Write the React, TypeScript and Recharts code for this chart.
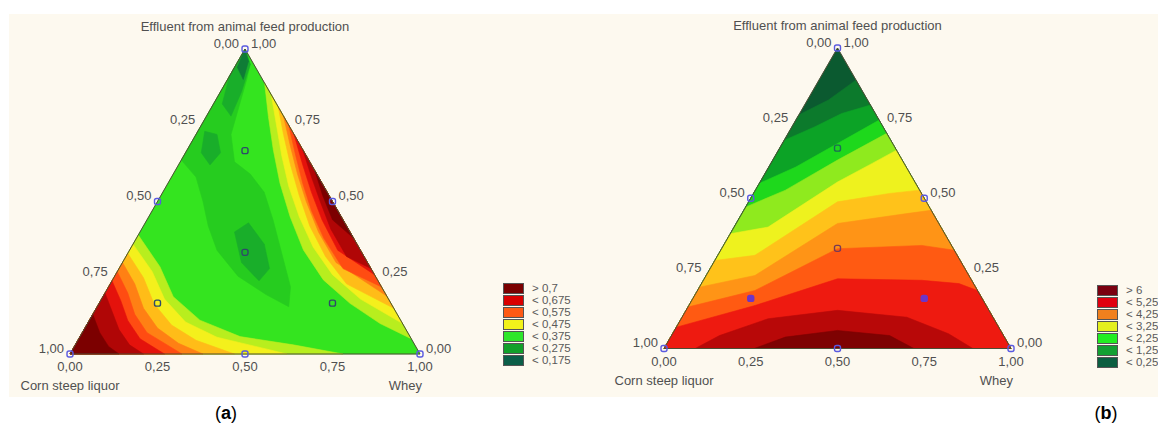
import React from "react";
import { ScatterChart, Scatter, XAxis, YAxis } from "recharts";

type Pt = [number, number];

// Points are in triangle space: x runs along the base (0 = corn steep liquor, 1 = whey),
// y is the effluent fraction (1 = top vertex).
const triangle: Pt[] = [[0, 0], [1, 0], [0.5, 1], [0, 0]];

const tickValues = [0, 0.25, 0.5, 0.75, 1];

const axisNames = {
  top: "Effluent from animal feed production",
  left: "Corn steep liquor",
  right: "Whey",
};

// design points as mixtures [corn, whey, effluent]
const designVertices = [[1, 0, 0], [0, 1, 0], [0, 0, 1]];
const designEdges = [[0.5, 0.5, 0], [0.5, 0, 0.5], [0, 0.5, 0.5]];
const designAxial = [[2 / 3, 1 / 6, 1 / 6], [1 / 6, 2 / 3, 1 / 6], [1 / 6, 1 / 6, 2 / 3]];
const designCentre = [[1 / 3, 1 / 3, 1 / 3]];

// ---- (a) contour regions ----
// low side (darker greens), painted over the base
const aLow: Pt[][][] = [
  [
    [[0.5, 1], [0.318, 0.636], [0.36, 0.58], [0.38, 0.5], [0.395, 0.42], [0.42, 0.34], [0.48, 0.255], [0.56, 0.195], [0.625, 0.155], [0.63, 0.22], [0.605, 0.33], [0.58, 0.44], [0.555, 0.53], [0.515, 0.59], [0.47, 0.63], [0.46, 0.72], [0.48, 0.8], [0.505, 0.9], [0.515, 0.95]],
  ],
  [
    [[0.5, 1], [0.455, 0.91], [0.435, 0.82], [0.46, 0.78], [0.49, 0.86], [0.515, 0.95]],
    [[0.385, 0.73], [0.375, 0.66], [0.4, 0.62], [0.43, 0.66], [0.42, 0.72]],
    [[0.47, 0.4], [0.49, 0.3], [0.54, 0.24], [0.57, 0.28], [0.555, 0.36], [0.51, 0.43]],
  ],
  [
    [[0.5, 1], [0.478, 0.94], [0.495, 0.9], [0.51, 0.96]],
  ],
];

// high side, nested from the yellow-green contour to the darkest red
const aHigh: Pt[][][] = [
  [
    [[0.195, 0.39], [0.257, 0.286], [0.295, 0.188], [0.371, 0.111], [0.486, 0.057], [0.638, 0.03], [0.78, 0], [0, 0]],
    [[0.556, 0.889], [0.567, 0.778], [0.581, 0.669], [0.6, 0.56], [0.629, 0.45], [0.667, 0.341], [0.724, 0.243], [0.8, 0.166], [0.886, 0.1], [0.975, 0.05]],
  ],
  [
    [[0.18, 0.36], [0.235, 0.27], [0.27, 0.18], [0.33, 0.105], [0.42, 0.055], [0.53, 0.025], [0.62, 0], [0, 0]],
    [[0.575, 0.85], [0.59, 0.75], [0.605, 0.65], [0.625, 0.55], [0.655, 0.45], [0.695, 0.35], [0.75, 0.26], [0.83, 0.18], [0.95, 0.1]],
  ],
  [
    [[0.165, 0.33], [0.21, 0.25], [0.24, 0.165], [0.29, 0.095], [0.36, 0.045], [0.47, 0], [0, 0]],
    [[0.595, 0.81], [0.61, 0.72], [0.63, 0.62], [0.655, 0.52], [0.685, 0.42], [0.73, 0.32], [0.79, 0.23], [0.925, 0.15]],
  ],
  [
    [[0.15, 0.3], [0.185, 0.23], [0.21, 0.15], [0.25, 0.085], [0.31, 0.035], [0.38, 0], [0, 0]],
    [[0.61, 0.78], [0.63, 0.68], [0.65, 0.59], [0.675, 0.5], [0.71, 0.4], [0.76, 0.3], [0.905, 0.19]],
  ],
  [
    [[0.135, 0.27], [0.165, 0.2], [0.185, 0.13], [0.22, 0.07], [0.32, 0], [0, 0]],
    [[0.625, 0.75], [0.645, 0.65], [0.665, 0.56], [0.69, 0.47], [0.725, 0.38], [0.78, 0.28], [0.89, 0.22]],
  ],
  [
    [[0.12, 0.24], [0.145, 0.175], [0.165, 0.11], [0.2, 0.05], [0.27, 0], [0, 0]],
    [[0.64, 0.72], [0.665, 0.62], [0.69, 0.53], [0.72, 0.44], [0.765, 0.34], [0.87, 0.26]],
  ],
  [
    [[0.1, 0.2], [0.12, 0.14], [0.14, 0.08], [0.17, 0.03], [0.21, 0], [0, 0]],
    [[0.665, 0.67], [0.69, 0.58], [0.715, 0.5], [0.745, 0.41], [0.79, 0.32], [0.86, 0.28]],
  ],
  [
    [[0.065, 0.13], [0.085, 0.07], [0.11, 0.025], [0.14, 0], [0, 0]],
    [[0.7, 0.6], [0.722, 0.52], [0.75, 0.44], [0.81, 0.38]],
  ],
];

// ---- (b) contour regions: each runs from the left edge to the right edge, area below is higher ----
const bBands: Pt[][][] = [
  [[[0.388, 0.777], [0.474, 0.827], [0.553, 0.893], [1, 0], [0, 0]]],
  [[[0.347, 0.693], [0.435, 0.738], [0.512, 0.782], [0.595, 0.81], [1, 0], [0, 0]]],
  [[[0.274, 0.549], [0.38, 0.604], [0.5, 0.682], [0.62, 0.76], [1, 0], [0, 0]]],
  [[[0.236, 0.471], [0.35, 0.527], [0.5, 0.627], [0.642, 0.716], [1, 0], [0, 0]]],
  [[[0.191, 0.382], [0.3, 0.404], [0.5, 0.554], [0.6, 0.616], [0.67, 0.66], [1, 0], [0, 0]]],
  [[[0.147, 0.293], [0.262, 0.31], [0.5, 0.488], [0.65, 0.516], [0.737, 0.527], [1, 0], [0, 0]]],
  [[[0.102, 0.204], [0.262, 0.243], [0.5, 0.416], [0.7, 0.449], [0.77, 0.46], [1, 0], [0, 0]]],
  [[[0.069, 0.138], [0.262, 0.193], [0.5, 0.332], [0.743, 0.343], [0.837, 0.327], [1, 0], [0, 0]]],
  [[[0.036, 0.071], [0.262, 0.143], [0.5, 0.232], [0.743, 0.227], [0.85, 0.216], [0.903, 0.193], [1, 0], [0, 0]]],
  [[[0.09, 0], [0.16, 0.043], [0.3, 0.099], [0.5, 0.127], [0.7, 0.104], [0.82, 0.049], [0.89, 0]]],
  [[[0.26, 0], [0.35, 0.038], [0.5, 0.06], [0.65, 0.043], [0.72, 0]]],
];

const legendA = ["> 0,7", "< 0,675", "< 0,575", "< 0,475", "< 0,375", "< 0,275", "< 0,175"];
const legendB = ["> 6", "< 5,25", "< 4,25", "< 3,25", "< 2,25", "< 1,25", "< 0,25"];

// styles
const aBase = "#34e41f";
const aLowColors = ["#26cc1f", "#19ae2a", "#0f7c36"];
const aHighColors = ["#b8ee1e", "#f4f01c", "#ffbc18", "#ff8014", "#ff4c12", "#e4120c", "#b00606", "#7c0000"];
const bBase = "#0b5a30";
const bColors = ["#0c7a2c", "#0ca326", "#1ed81c", "#8fea1e", "#eef21e", "#ffc21a", "#ff9416", "#ff5a12", "#ee1a10", "#b80808", "#7e0202"];
const legendColorsA = ["#7a0000", "#d90000", "#ff5a14", "#f2f21a", "#2ee62a", "#12a02a", "#0b5e48"];
const legendColorsB = ["#7a0010", "#e00010", "#f0801e", "#e4f01e", "#22ee22", "#12a032", "#0b5e40"];

const FONT = "'Liberation Sans', Arial, sans-serif";
const TEXT = "#505050";
const PAD_X = 60;
const PAD_Y = 45;

const fmt = (v: number) => v.toFixed(2).replace(".", ",");
const toXY = (pts: Pt[]) => pts.map(([x, y]) => ({ x, y }));
const closed = (pts: Pt[]) => [...pts, pts[0]];
const mixXY = (m: number[]) => ({ x: m[1] + m[2] / 2, y: m[2] });

const leftTicks = tickValues.map((c) => ({ x: (1 - c) / 2, y: 1 - c, text: fmt(c) }));
const rightTicks = tickValues.map((e) => ({ x: 1 - e / 2, y: e, text: fmt(e) }));
const bottomTicks = tickValues.map((w) => ({ x: w, y: 0, text: fmt(w) }));

const NoDot = () => <g />;

const textShape = (dx: number, dy: number, anchor: "start" | "middle" | "end") => (p: any) => (
  <text x={p.cx + dx} y={p.cy + dy} textAnchor={anchor} fontSize={13} fontFamily={FONT} fill={TEXT}>
    {p.payload.text}
  </text>
);

const marker = (stroke: string, fill = "none") => (p: any) => (
  <rect x={p.cx - 3} y={p.cy - 3} width={6} height={6} rx={2} fill={fill} stroke={stroke} strokeWidth={1.4} />
);

type Box = { left: number; top: number; width: number; height: number };

function Ternary({ box, base, layers, interior }: { box: Box; base: string; layers: { polys: Pt[][]; color: string }[]; interior: React.ReactNode }) {
  return (
    <div style={{ position: "absolute", left: box.left - PAD_X, top: box.top - PAD_Y }}>
      <ScatterChart
        width={box.width + 2 * PAD_X}
        height={box.height + 2 * PAD_Y}
        margin={{ top: PAD_Y, right: PAD_X, bottom: PAD_Y, left: PAD_X }}
      >
        <XAxis type="number" dataKey="x" domain={[0, 1]} hide />
        <YAxis type="number" dataKey="y" domain={[0, 1]} hide />
        <Scatter data={toXY(triangle)} line={{ fill: base, stroke: base, strokeWidth: 0.5 }} shape={NoDot} isAnimationActive={false} />
        {layers.map((layer, i) =>
          layer.polys.map((poly, j) => (
            <Scatter
              key={`${i}-${j}`}
              data={toXY(closed(poly))}
              line={{ fill: layer.color, stroke: layer.color, strokeWidth: 0.6 }}
              shape={NoDot}
              isAnimationActive={false}
            />
          ))
        )}
        <Scatter data={toXY(triangle)} line={{ fill: "none", stroke: "#4d4d35", strokeWidth: 1 }} shape={NoDot} isAnimationActive={false} />
        <Scatter data={leftTicks} shape={textShape(-6, -1.5, "end")} isAnimationActive={false} />
        <Scatter data={rightTicks} shape={textShape(6, -1.5, "start")} isAnimationActive={false} />
        <Scatter data={bottomTicks} shape={textShape(0, 17, "middle")} isAnimationActive={false} />
        <Scatter data={[{ x: 0.5, y: 1, text: axisNames.top }]} shape={textShape(0, -18, "middle")} isAnimationActive={false} />
        <Scatter data={[{ x: 0, y: 0, text: axisNames.left }]} shape={textShape(0, 36, "middle")} isAnimationActive={false} />
        <Scatter data={[{ x: 1, y: 0, text: axisNames.right }]} shape={textShape(2, 36, "end")} isAnimationActive={false} />
        <Scatter data={[...designVertices, ...designEdges].map(mixXY)} shape={marker("#5a5ae0")} isAnimationActive={false} />
        {interior}
      </ScatterChart>
    </div>
  );
}

function Legend({ left, top, labels, colors }: { left: number; top: number; labels: string[]; colors: string[] }) {
  return (
    <div style={{ position: "absolute", left, top, fontFamily: FONT, fontSize: 11.5, color: "#5a5a5a", whiteSpace: "nowrap" }}>
      {labels.map((t, i) => (
        <div key={t} style={{ display: "flex", alignItems: "center", height: 12 }}>
          <span style={{ width: 19, height: 9, background: colors[i], border: "1px solid #555", display: "inline-block" }} />
          <span style={{ marginLeft: 8, lineHeight: "12px" }}>{t}</span>
        </div>
      ))}
    </div>
  );
}

const Caption = ({ left, letter }: { left: number; letter: string }) => (
  <div style={{ position: "absolute", left, top: 402, transform: "translateX(-50%)", fontFamily: FONT, fontSize: 18, lineHeight: "22px", color: "#000" }}>
    (<b>{letter}</b>)
  </div>
);

export default function App() {
  const boxA: Box = { left: 70, top: 49, width: 350, height: 305 };
  const boxB: Box = { left: 664, top: 47.5, width: 347, height: 300.5 };

  const layersA = [
    ...aLow.map((polys, i) => ({ polys, color: aLowColors[i] })),
    ...aHigh.map((polys, i) => ({ polys, color: aHighColors[i] })),
  ];
  const layersB = bBands.map((polys, i) => ({ polys, color: bColors[i] }));

  const upperAxial = designAxial.filter((m) => m[2] > 0.5).map(mixXY);
  const lowerAxial = designAxial.filter((m) => m[2] < 0.5).map(mixXY);

  return (
    <div style={{ position: "absolute", left: 0, top: 0, width: 1158, height: 438, background: "#fff", overflow: "hidden" }}>
      <div style={{ position: "absolute", left: 9, top: 14, width: 1149, height: 383, background: "#fdf9ef" }} />
      <Ternary
        box={boxA}
        base={aBase}
        layers={layersA}
        interior={
          <>
            <Scatter data={[...designAxial, ...designCentre].map(mixXY)} shape={marker("#2f4a6a")} isAnimationActive={false} />
          </>
        }
      />
      <Ternary
        box={boxB}
        base={bBase}
        layers={layersB}
        interior={
          <>
            <Scatter data={upperAxial} shape={marker("#1d6b55")} isAnimationActive={false} />
            <Scatter data={designCentre.map(mixXY)} shape={marker("#7a3a55")} isAnimationActive={false} />
            <Scatter data={lowerAxial} shape={marker("#6c36c8", "#6c36c8")} isAnimationActive={false} />
          </>
        }
      />
      <Legend left={503} top={282} labels={legendA} colors={legendColorsA} />
      <Legend left={1097} top={284} labels={legendB} colors={legendColorsB} />
      <Caption left={226} letter="a" />
      <Caption left={1106} letter="b" />
    </div>
  );
}
